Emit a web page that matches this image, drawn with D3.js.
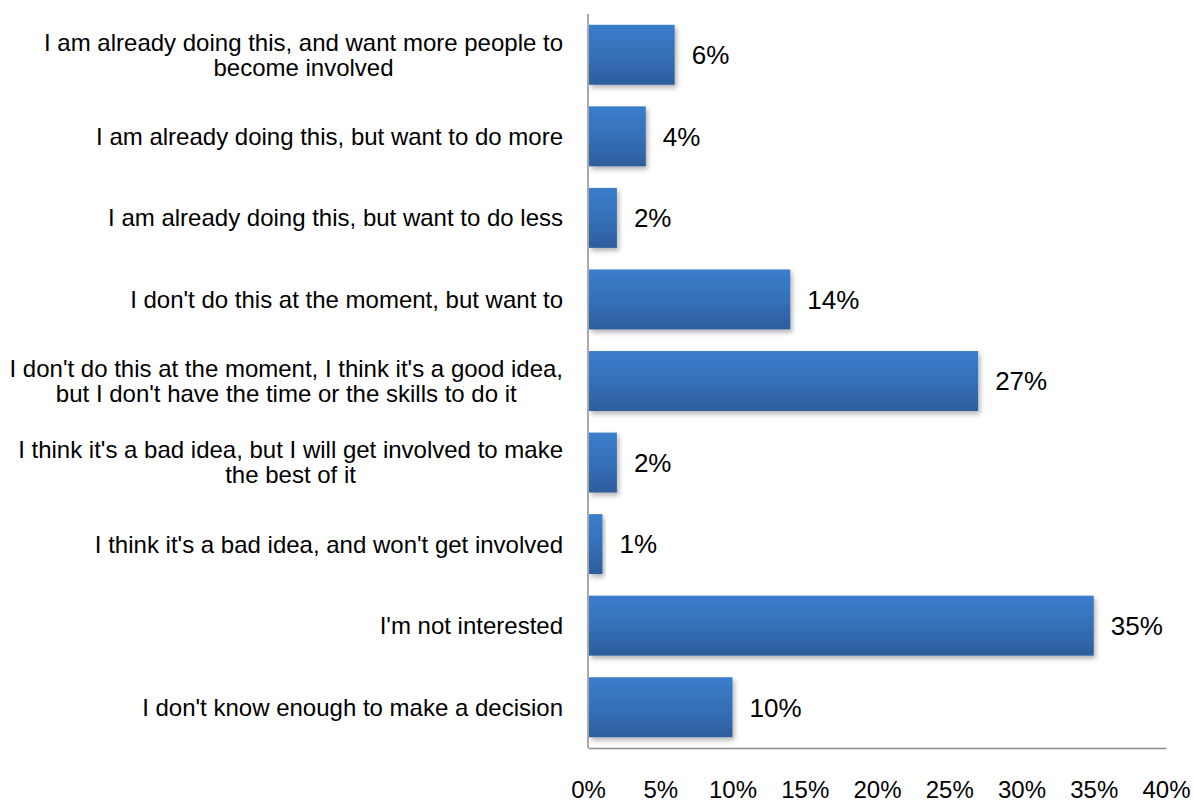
<!DOCTYPE html>
<html>
<head>
<meta charset="utf-8">
<script src="https://cdn.jsdelivr.net/npm/d3@7"></script>
<style>
  body { margin: 0; background: #fff; }
  text { font-family: "Liberation Sans", Arial, sans-serif; fill: #000; }
</style>
</head>
<body>
<svg id="chart" width="1193" height="801"></svg>
<script>
// answers, top to bottom (multi-line labels split on |)
var categories = [
  "I am already doing this, and want more people to|become involved",
  "I am already doing this, but want to do more",
  "I am already doing this, but want to do less",
  "I don't do this at the moment, but want to",
  "I don't do this at the moment, I think it's a good idea,|but I don't have the time or the skills to do it",
  "I think it's a bad idea, but I will get involved to make|the best of it",
  "I think it's a bad idea, and won't get involved",
  "I'm not interested",
  "I don't know enough to make a decision"
];
var values = [6, 4, 2, 14, 27, 2, 1, 35, 10];
var tickValues = [0, 5, 10, 15, 20, 25, 30, 35, 40];

var svg = d3.select("#chart");
var margin = {top: 14, right: 27, bottom: 53, left: 588},
    width = 1193 - margin.left - margin.right,
    height = 801 - margin.top - margin.bottom;

var x = d3.scaleLinear().domain([0, 40]).range([0, width]);
var y = d3.scaleBand().domain(categories).range([0, height])
  .paddingInner(0.265).paddingOuter(0.1325);

var defs = svg.append("defs");
var grad = defs.append("linearGradient").attr("id", "barGrad")
  .attr("x1", 0).attr("y1", 0).attr("x2", 0).attr("y2", 1);
grad.append("stop").attr("offset", "0%").attr("stop-color", "#3b7dcb");
grad.append("stop").attr("offset", "50%").attr("stop-color", "#3570b9");
grad.append("stop").attr("offset", "100%").attr("stop-color", "#2d5d9c");

var shadow = defs.append("filter").attr("id", "shadow")
  .attr("x", "-10%").attr("y", "-10%").attr("width", "130%").attr("height", "140%");
shadow.append("feDropShadow").attr("dx", 2).attr("dy", 3)
  .attr("stdDeviation", 2.5).attr("flood-color", "#000").attr("flood-opacity", 0.3);

var g = svg.append("g").attr("transform", "translate(" + margin.left + "," + margin.top + ")");

// bars
g.selectAll("rect.bar")
  .data(values)
  .enter().append("rect")
  .attr("class", "bar")
  .attr("x", 1)
  .attr("y", function(d, i) { return y(categories[i]); })
  .attr("width", function(d) { return x(d) - 1; })
  .attr("height", y.bandwidth())
  .attr("fill", "url(#barGrad)")
  .attr("filter", "url(#shadow)");

// value labels
g.selectAll("text.val")
  .data(values)
  .enter().append("text")
  .attr("class", "val")
  .attr("x", function(d) { return x(d) + 17; })
  .attr("y", function(d, i) { return y(categories[i]) + y.bandwidth() / 2; })
  .attr("dy", "0.36em")
  .style("font-size", "26px")
  .text(function(d) { return d + "%"; });

// category labels: lines centred on each other, block right-aligned
var cat = g.selectAll("text.cat")
  .data(categories)
  .enter().append("text")
  .attr("class", "cat")
  .attr("text-anchor", "middle")
  .style("font-size", "24px");

cat.each(function(d) {
  var lines = d.split("|");
  var t = d3.select(this);
  lines.forEach(function(line, i) {
    t.append("tspan")
      .attr("x", 0)
      .attr("y", (i - (lines.length - 1) / 2) * 25)
      .attr("dy", "0.35em")
      .text(line);
  });
  var maxW = d3.max(t.selectAll("tspan").nodes(), function(n) { return n.getComputedTextLength(); });
  t.attr("transform", "translate(" + (-25 - maxW / 2) + "," + (y(d) + y.bandwidth() / 2) + ")");
});

// axes
var xAxis = d3.axisBottom(x).tickValues(tickValues).tickSize(0).tickPadding(33)
  .tickFormat(function(d) { return d + "%"; });
var ax = g.append("g").attr("transform", "translate(0," + height + ")").call(xAxis);
ax.select(".domain").attr("stroke", "#8c8c8c").attr("stroke-width", 1.5);
ax.selectAll("text").style("font-size", "24px").attr("fill", "#000")
  .style("font-family", "Liberation Sans, Arial, sans-serif");

g.append("line")
  .attr("x1", 0).attr("x2", 0).attr("y1", 0).attr("y2", height)
  .attr("stroke", "#8c8c8c").attr("stroke-width", 1.5);
</script>
</body>
</html>
